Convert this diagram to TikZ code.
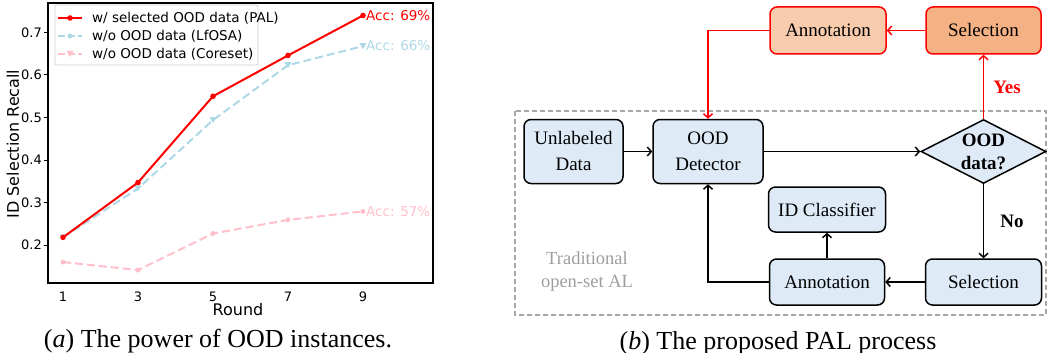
\documentclass[tikz,border=0pt]{standalone}
\usepackage{fontspec}
\setmainfont{Liberation Serif}
\newfontfamily\dvs{DejaVu Sans}
\usetikzlibrary{arrows.meta,shapes.geometric,calc}
\definecolor{boxblue}{HTML}{DEEBF7}
\definecolor{annored}{HTML}{F8CBAD}
\definecolor{selred}{HTML}{F4B183}
\definecolor{palred}{HTML}{FF0000}
\definecolor{lfosa}{HTML}{ADD8E6}
\definecolor{coreset}{HTML}{FFC0CB}
\definecolor{dashgray}{HTML}{A6A6A6}
\definecolor{tradgray}{HTML}{9E9E9E}
\begin{document}
\begin{tikzpicture}[x=1pt,y=-1pt,
  flowbox/.style={draw=black, line width=1.5pt, rounded corners=7pt, fill=boxblue,
    align=center, inner sep=0pt, font=\fontsize{19}{26}\selectfont},
  redbox/.style={flowbox, draw=palred},
  arr/.style={line width=1.5pt, -{Straight Barb[length=4pt,width=9pt]}},
  ticklab/.style={font=\dvs\fontsize{13}{15}\selectfont, inner sep=0pt},
  leglab/.style={font=\dvs\fontsize{13.5}{15}\selectfont, inner sep=0pt, anchor=west},
  acclab/.style={font=\dvs\fontsize{13.5}{15}\selectfont, inner sep=0pt, anchor=west},
  plotline/.style={line width=2pt, line join=round},
  dashline/.style={plotline, dash pattern=on 8pt off 4pt},
  caption/.style={font=\fontsize{26}{30}\selectfont, anchor=base, inner sep=0pt}
]
\useasboundingbox (0,0) rectangle (1047,353);

% ---------------- (a) plot ----------------
\begin{scope}[shift={(25.5,330)}, x=37.5pt, y=425pt]
  \draw[dashline, coreset] (1,0.160) -- (3,0.141) -- (5,0.227) -- (7,0.259) -- (9,0.279);
  \foreach \r/\v in {1/0.160,3/0.141,5/0.227,7/0.259,9/0.279}
    \fill[coreset] (\r,\v) circle[radius=2.5pt];
  \draw[dashline, lfosa] (1,0.218) -- (3,0.333) -- (5,0.494) -- (7,0.623) -- (9,0.668);
  \foreach \r/\v in {1/0.218,3/0.333,5/0.494,7/0.623,9/0.668}
    \fill[lfosa] ($(\r,\v)+(-3.5pt,3pt)$) -- ++(7pt,0) -- ++(-3.5pt,-6pt) -- cycle;
  \draw[plotline, palred] (1,0.218) -- (3,0.347) -- (5,0.550) -- (7,0.646) -- (9,0.740);
  \foreach \r/\v in {1/0.218,3/0.347,5/0.550,7/0.646,9/0.740}
    \fill[palred] (\r,\v) circle[radius=2.8pt];
\end{scope}
\node[acclab, text=palred] (acc1) at (366,15.5) {Acc: 69\%};
\node[acclab, text=lfosa] (acc2) at (366,45.5) {Acc: 66\%};
\node[acclab, text=coreset] (acc3) at (366,211.5) {Acc: 57\%};
% axes frame
\draw[line width=1.6pt] (48,3) rectangle (433,283);
\foreach \v/\yy in {0.2/245,0.3/202.5,0.4/160,0.5/117.5,0.6/75,0.7/32.5}{
  \draw[line width=1pt] (43.5,\yy) -- (48,\yy);
  \node[ticklab, anchor=east] (yt\v) at (42,\yy) {\v};
}
\foreach \r/\xx in {1/63,3/138,5/213,7/288,9/363}{
  \node[ticklab] (xt\r) at (\xx,296.5) {\r};
}
\node[font=\dvs\fontsize{16}{18}\selectfont, rotate=90, inner sep=0pt] (ylab) at (13,144) {ID Selection Recall};
\node[font=\dvs\fontsize{16}{18}\selectfont, inner sep=0pt] (xlab) at (238,310) {Round};
% legend
\draw[black!18, fill=white, line width=0.8pt, rounded corners=2pt] (55,5) rectangle (258,65);
\draw[plotline, palred] (58,18) -- (82,18);
\fill[palred] (70,18) circle[radius=2.8pt];
\node[leglab] (l1) at (92,18) {w/ selected OOD data (PAL)};
\draw[dashline, lfosa, dash pattern=on 7pt off 3pt] (58,36) -- (82,36);
\fill[lfosa] (70,36) circle[radius=2.5pt];
\node[leglab] (l2) at (92,36) {w/o OOD data (LfOSA)};
\draw[dashline, coreset, dash pattern=on 7pt off 3pt] (58,54) -- (82,54);
\fill[coreset] (66.5,51) -- (73.5,51) -- (70,57) -- cycle;
\node[leglab] (l3) at (92,54) {w/o OOD data (Coreset)};
\node[caption] (capa) at (218,347) {(\textit{a}) The power of OOD instances.};

% ---------------- (b) flow ----------------
\draw[dashgray, line width=1.2pt, dash pattern=on 5pt off 3pt] (515,111) rectangle (1046,315);
\node[tradgray, align=center, inner sep=0pt, font=\fontsize{18.5}{23}\selectfont] (trad) at (587,271.5) {Traditional\\open-set AL};

\node[flowbox, minimum width=99pt, minimum height=64pt] (ud) at (573.5,151.5) {Unlabeled\\Data};
\node[flowbox, minimum width=110pt, minimum height=64pt] (od) at (708,151.5) {OOD\\Detector};
\node[draw=black, fill=boxblue, line width=1.5pt, diamond, inner sep=0pt,
      minimum width=125pt, minimum height=64pt] (dia) at (983.5,151.5) {};
\node[align=center, inner sep=0pt, font=\bfseries\fontsize{19}{23}\selectfont] (diat) at (983.5,151.5) {OOD\\data?};
\node[flowbox, minimum width=117pt, minimum height=45pt] (idc) at (827,209.5) {ID Classifier};
\node[flowbox, minimum width=115pt, minimum height=46pt] (annB) at (827,282) {Annotation};
\node[flowbox, minimum width=116pt, minimum height=46pt] (selB) at (983.5,282) {Selection};
\node[redbox, fill=annored, minimum width=116pt, minimum height=47pt] (annT) at (828,30.5) {Annotation};
\node[redbox, fill=selred, minimum width=115pt, minimum height=47pt] (selT) at (983.5,30.5) {Selection};

\draw[arr] (ud.east) -- (od.west);
\draw[arr] (od.east) -- (dia.west);
\draw[arr, palred] (dia.north) -- (selT.south);
\draw[arr, palred] (selT.west) -- (annT.east);
\draw[arr, palred] (annT.west) -| (od.north);
\draw[arr] (dia.south) -- (selB.north);
\draw[arr] (selB.west) -- (annB.east);
\draw[arr] (annB.north) -- (idc.south);
\draw[arr] (annB.west) -| (od.south);
\node[text=palred, inner sep=0pt, font=\bfseries\fontsize{19}{23}\selectfont] (yes) at (1007,87) {Yes};
\node[inner sep=0pt, font=\bfseries\fontsize{19}{23}\selectfont] (no) at (1012,221) {No};
\node[caption] (capb) at (778,349) {(\textit{b}) The proposed PAL process};
\end{tikzpicture}
\end{document}
